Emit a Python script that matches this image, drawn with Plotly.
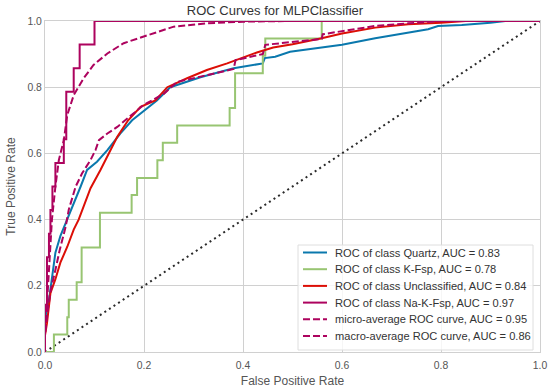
import plotly.graph_objects as go

# ---- data ----
fpr_quartz = [0, 0.0, 0.008, 0.014, 0.021, 0.031, 0.045, 0.058, 0.072, 0.085, 0.105, 0.126, 0.152, 0.176,
              0.193, 0.226, 0.253, 0.314, 0.381, 0.440, 0.444, 0.465, 0.495, 0.532, 0.6, 0.667, 0.734,
              0.774, 0.794, 0.842, 0.9, 0.93, 1.0]
tpr_quartz = [0, 0.10, 0.157, 0.217, 0.30, 0.35, 0.40, 0.45, 0.50, 0.55, 0.575, 0.61, 0.66, 0.70,
              0.72, 0.76, 0.80, 0.83, 0.857, 0.872, 0.888, 0.892, 0.907, 0.915, 0.928, 0.948, 0.965,
              0.975, 0.985, 0.988, 0.995, 1.0, 1.0]

fpr_kfsp = [0, 0.018, 0.018, 0.045, 0.045, 0.048, 0.048, 0.064, 0.064, 0.074, 0.074, 0.111, 0.111,
            0.175, 0.175, 0.186, 0.186, 0.227, 0.227, 0.238, 0.238, 0.267, 0.267, 0.373, 0.373,
            0.384, 0.384, 0.440, 0.440, 0.445, 0.445, 0.559, 0.559, 1.0]
tpr_kfsp = [0, 0, 0.053, 0.053, 0.105, 0.105, 0.158, 0.158, 0.211, 0.211, 0.316, 0.316, 0.421,
            0.421, 0.474, 0.474, 0.526, 0.526, 0.579, 0.579, 0.632, 0.632, 0.684, 0.684, 0.737,
            0.737, 0.842, 0.842, 0.895, 0.895, 0.947, 0.947, 1.0, 1.0]

fpr_uncl = [0, 0.0, 0.004, 0.011, 0.021, 0.031, 0.045, 0.058, 0.068, 0.078, 0.092, 0.112, 0.129, 0.146,
            0.168, 0.193, 0.223, 0.247, 0.287, 0.327, 0.368, 0.395, 0.428, 0.461, 0.5, 0.559, 0.6,
            0.667, 0.734, 0.8, 0.85, 1.0]
tpr_uncl = [0, 0.05, 0.087, 0.178, 0.22, 0.27, 0.318, 0.37, 0.40, 0.44, 0.495, 0.55, 0.60, 0.65,
            0.70, 0.741, 0.76, 0.80, 0.827, 0.852, 0.872, 0.887, 0.905, 0.92, 0.93, 0.948, 0.962,
            0.98, 0.99, 0.995, 1.0, 1.0]

fpr_nakfsp = [0, 0.0, 0.004, 0.004, 0.008, 0.008, 0.011, 0.011, 0.015, 0.015, 0.021, 0.021, 0.038, 0.038,
              0.043, 0.043, 0.058, 0.058, 0.070, 0.070, 0.100, 0.100, 1.0]
tpr_nakfsp = [0, 0.143, 0.143, 0.286, 0.286, 0.357, 0.357, 0.429, 0.429, 0.5, 0.5, 0.571, 0.571, 0.643,
              0.643, 0.786, 0.786, 0.857, 0.857, 0.929, 0.929, 1.0, 1.0]

fpr_micro = [0, 0.0, 0.003, 0.006, 0.01, 0.014, 0.021, 0.028, 0.038, 0.045, 0.058, 0.078, 0.098, 0.126,
             0.159, 0.193, 0.213, 0.26, 0.327, 0.4, 0.5, 1.0]
tpr_micro = [0, 0.06, 0.12, 0.2, 0.3, 0.4, 0.5, 0.58, 0.64, 0.716, 0.776, 0.827, 0.867, 0.902,
             0.933, 0.95, 0.958, 0.983, 0.993, 0.998, 1.0, 1.0]

fpr_macro = [0, 0.0, 0.005, 0.012, 0.021, 0.03, 0.042, 0.048, 0.062, 0.075, 0.092, 0.102, 0.109, 0.126,
             0.146, 0.162, 0.179, 0.199, 0.24, 0.267, 0.314, 0.381, 0.385, 0.44, 0.445, 0.559, 0.561,
             0.6, 0.667, 0.734, 0.8, 1.0]
tpr_macro = [0, 0.05, 0.12, 0.19, 0.248, 0.31, 0.38, 0.43, 0.50, 0.54, 0.58, 0.61, 0.64, 0.66,
             0.68, 0.70, 0.72, 0.746, 0.78, 0.816, 0.832, 0.855, 0.882, 0.90, 0.928, 0.946, 0.96,
             0.97, 0.985, 0.993, 1.0, 1.0]

names = ["ROC of class Quartz, AUC = 0.83",
         "ROC of class K-Fsp, AUC = 0.78",
         "ROC of class Unclassified, AUC = 0.84",
         "ROC of class Na-K-Fsp, AUC = 0.97",
         "micro-average ROC curve, AUC = 0.95",
         "macro-average ROC curve, AUC = 0.86"]
colors = ["#0a78ad", "#98c572", "#dc0e06", "#ad035e", "#ad035e", "#ad035e"]
ticks = [0.0, 0.2, 0.4, 0.6, 0.8, 1.0]
tick_text = ["0.0", "0.2", "0.4", "0.6", "0.8", "1.0"]

series = [(fpr_quartz, tpr_quartz), (fpr_kfsp, tpr_kfsp), (fpr_uncl, tpr_uncl),
          (fpr_nakfsp, tpr_nakfsp), (fpr_micro, tpr_micro), (fpr_macro, tpr_macro)]
dashes = ["solid", "solid", "solid", "solid", "7px,3px", "7px,3px"]

W, H = 550, 391
ML, MR, MT, MB = 45, 10, 21, 39
PW, PH = W - ML - MR, H - MT - MB


def px_x(p):  # page pixel -> paper x
    return (p - ML) / PW


def px_y(p):  # page pixel -> paper y
    return (H - MB - p) / PH


fig = go.Figure()
# chance line
fig.add_trace(go.Scatter(x=[0, 1], y=[0, 1], mode="lines", showlegend=False,
                         line=dict(color="#2a2a2a", width=2, dash="2px,3.5px"), hoverinfo="skip"))
for (fx, ty), nm, c, d in zip(series, names, colors, dashes):
    fig.add_trace(go.Scatter(x=fx, y=ty, mode="lines", name=nm, showlegend=False,
                             line=dict(color=c, width=2, dash=d)))

font = "Liberation Sans, Arial, sans-serif"

# legend box drawn in page pixels (matches the reference frame)
box_l, box_r, box_t, box_b = 298, 533, 245, 350
shapes = [dict(type="rect", xref="paper", yref="paper",
               x0=px_x(box_l), x1=px_x(box_r), y0=px_y(box_b), y1=px_y(box_t),
               fillcolor="rgba(255,255,255,0.8)", line=dict(color="#dedede", width=1), layer="above")]
annotations = []
row0, row_gap = 252.5, 16.7
for i, (nm, c, d) in enumerate(zip(names, colors, dashes)):
    yy = px_y(row0 + i * row_gap)
    shapes.append(dict(type="line", xref="paper", yref="paper", x0=px_x(303), x1=px_x(327),
                       y0=yy, y1=yy, line=dict(color=c, width=2, dash=d), layer="above"))
    annotations.append(dict(text=nm, xref="paper", yref="paper", x=px_x(333), y=yy,
                            xanchor="left", yanchor="middle", showarrow=False,
                            font=dict(family=font, size=11.1, color="#333333")))

fig.update_layout(
    width=W, height=H,
    margin=dict(l=ML, r=MR, t=MT, b=MB),
    paper_bgcolor="white", plot_bgcolor="white",
    font=dict(family=font, size=11, color="#555555"),
    title=dict(text="ROC Curves for MLPClassifier", x=0.5, xanchor="center",
               y=1 - 10 / H, yanchor="middle",
               font=dict(family=font, size=13, color="#333333")),
    showlegend=False,
    hovermode=False,
    shapes=shapes,
    annotations=annotations,
)
fig.update_xaxes(range=[0, 1], tickvals=ticks, ticktext=tick_text, showgrid=True,
                 gridcolor="#d0d0d0", gridwidth=1, zeroline=False, showline=True,
                 linecolor="#d0d0d0", linewidth=1, mirror=True, ticks="", automargin=False,
                 ticklabelstandoff=4,
                 title=dict(text="False Positive Rate", standoff=6,
                            font=dict(family=font, size=12, color="#555555")),
                 tickfont=dict(size=10.4, color="#555555"))
fig.update_yaxes(range=[0, 1], tickvals=ticks, ticktext=tick_text, showgrid=True,
                 gridcolor="#d0d0d0", gridwidth=1, zeroline=False, showline=True,
                 linecolor="#d0d0d0", linewidth=1, mirror=True, ticks="", automargin=False,
                 title=dict(text="True Positive Rate", standoff=9,
                            font=dict(family=font, size=12, color="#555555")),
                 tickfont=dict(size=10.4, color="#555555"))

fig.write_html("out.html", config={"displayModeBar": False},
               post_script="document.body.style.margin='0';")
